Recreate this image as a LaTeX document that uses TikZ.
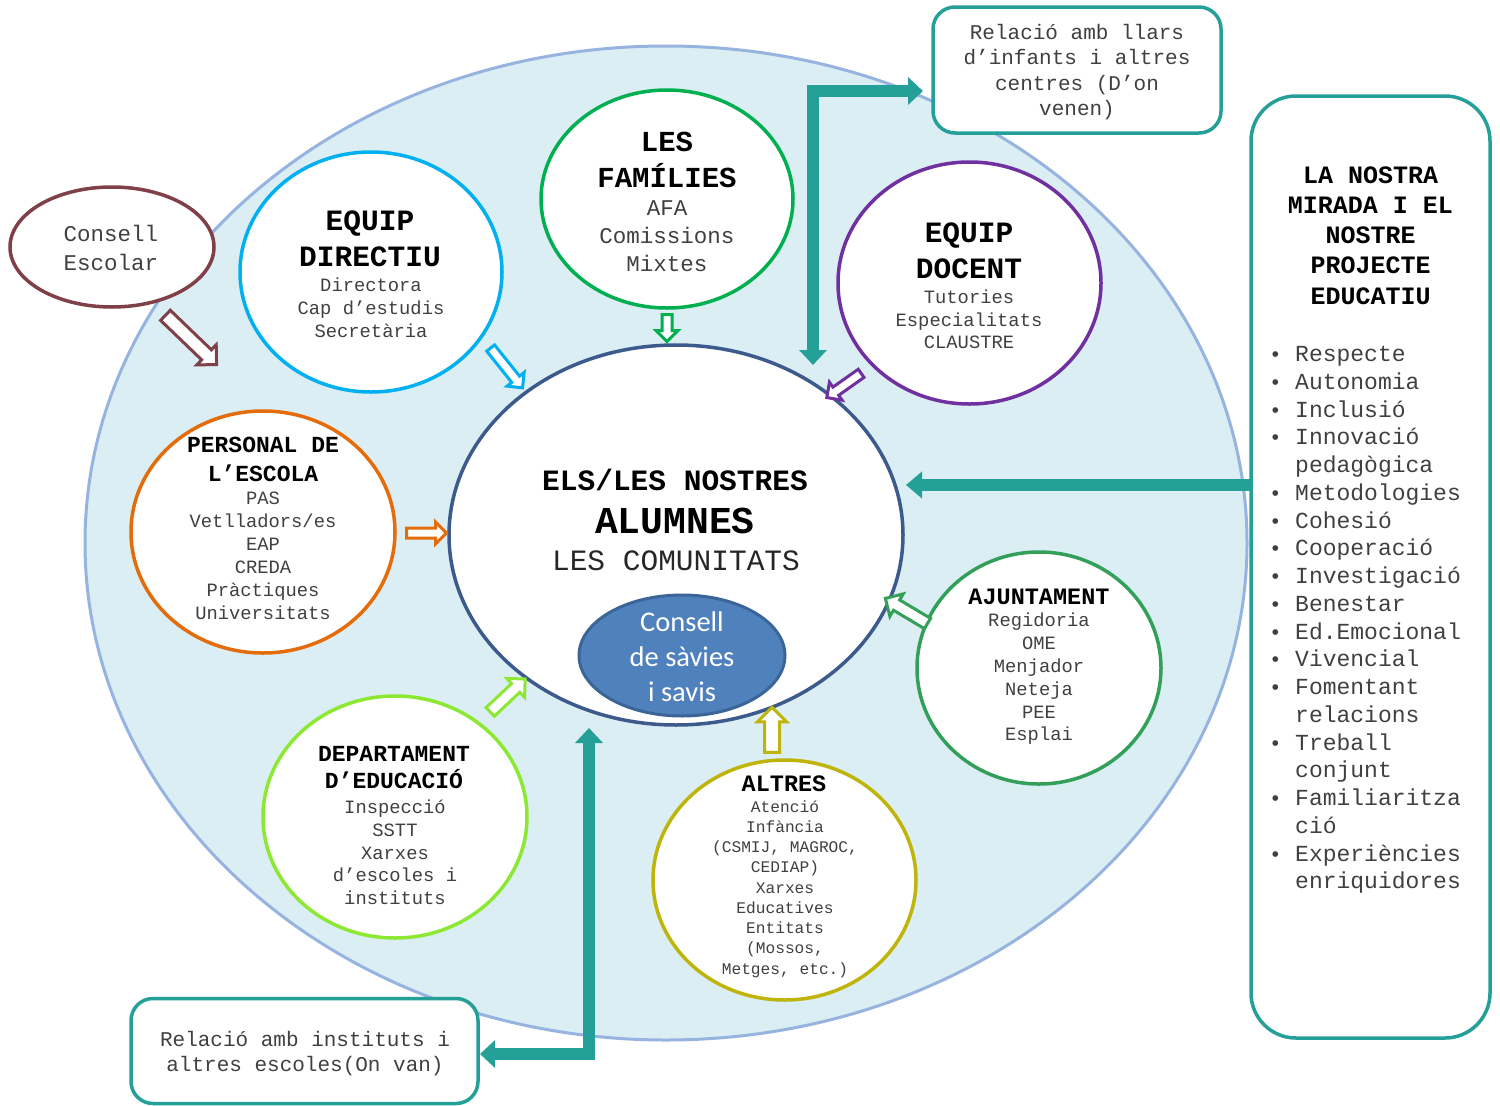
\documentclass[tikz,border=0pt]{standalone}
\usepackage{fontspec}
\usetikzlibrary{shapes.geometric,shapes.arrows,arrows.meta}
\newfontfamily\mono{Liberation Mono}
\newfontfamily\calib{Carlito}
\definecolor{bgblue}{RGB}{218,238,243}
\definecolor{ring}{RGB}{151,180,224}
\definecolor{tealc}{RGB}{36,160,152}
\definecolor{brownc}{RGB}{128,64,72}
\definecolor{cyanc}{RGB}{0,176,240}
\definecolor{greenc}{RGB}{0,176,80}
\definecolor{purplec}{RGB}{112,48,160}
\definecolor{orangec}{RGB}{228,108,10}
\definecolor{limec}{RGB}{140,232,50}
\definecolor{olivec}{RGB}{190,180,10}
\definecolor{ajgreen}{RGB}{51,160,90}
\definecolor{centerc}{RGB}{60,90,140}
\definecolor{saviesf}{RGB}{79,129,189}
\definecolor{saviesd}{RGB}{59,101,151}
\definecolor{txtgray}{RGB}{64,64,64}
\newcommand\fs[2]{\fontsize{#1}{#2}\selectfont}
\newcommand\bul{\makebox[26pt][l]{\fs{21}{27.74}•}}
\begin{document}
\begin{tikzpicture}[x=1pt,y=-1pt,
  grp/.style={ellipse,draw=#1,line width=3.5pt,fill=white,inner sep=0pt},
  ttl/.style={align=center,text=black,inner sep=0pt},
  itm/.style={align=center,text=txtgray,inner sep=0pt},
  harrow/.style 2 args={single arrow,draw=#1,fill=white,line width=3pt,inner sep=0pt,
    text width=0pt,text height=#2,text depth=#2,minimum width=0pt},
  tealarr/.style={draw=tealc,line width=12pt,line join=miter,
    {Triangle[width=27pt,length=15pt]}-{Triangle[width=27pt,length=15pt]}},
  tealone/.style={draw=tealc,line width=12pt,-{Triangle[width=26pt,length=16pt]}},
  rbox/.style={rectangle,draw=tealc,line width=3.5pt,fill=white,rounded corners=22pt,inner sep=0pt}
]
\useasboundingbox (0,0) rectangle (1500,1106);
\fill[white] (0,0) rectangle (1500,1106);

% big background ellipse
\node[ellipse,draw=ring,line width=3pt,fill=bgblue,minimum width=1162pt,minimum height=994pt,inner sep=0pt] (world) at (666,543) {};

% boxes
\node[rbox,minimum width=288pt,minimum height=126pt] (llars) at (1077,70) {};
\node[itm,font=\mono\fs{21}{25.5}] (llarst) at (1077,72) {Relació amb llars\\d’infants i altres\\centres (D’on\\venen)};
\node[rbox,minimum width=347pt,minimum height=105pt] (inst) at (304.5,1051) {};
\node[itm,font=\mono\fs{21}{25}] (instt) at (305,1053.5) {Relació amb instituts i\\altres escoles(On van)};

% right panel
\node[rectangle,draw=tealc,line width=3.5pt,fill=white,rounded corners=45pt,minimum width=239pt,minimum height=942pt] (panel) at (1370.5,567) {};
\node[ttl,font=\mono\bfseries\fs{25}{30.25}] (panelt) at (1370.5,235.5) {LA NOSTRA\\MIRADA I EL\\NOSTRE\\PROJECTE\\EDUCATIU};
\node[itm,align=left,anchor=west,font=\mono\fs{23}{27.74}] (panell) at (1269,620) {%
\bul Respecte\\
\bul Autonomia\\
\bul Inclusió\\
\bul Innovació\\
\hspace*{26pt}pedagògica\\
\bul Metodologies\\
\bul Cohesió\\
\bul Cooperació\\
\bul Investigació\\
\bul Benestar\\
\bul Ed.Emocional\\
\bul Vivencial\\
\bul Fomentant\\
\hspace*{26pt}relacions\\
\bul Treball\\
\hspace*{26pt}conjunt\\
\bul Familiaritza\\
\hspace*{26pt}ció\\
\bul Experiències\\
\hspace*{26pt}enriquidores};

% Consell escolar
\node[grp=brownc,minimum width=204pt,minimum height=120pt] (cescolar) at (112,247) {};
\node[itm,font=\mono\fs{22.5}{29}] (cescolart) at (111,247.5) {Consell\\Escolar};

% center
\node[grp=centerc,minimum width=454pt,minimum height=380pt] (alumnes) at (676,535) {};
\node[ttl,font=\mono\bfseries\fs{29.5}{34}] (alt1) at (675,480) {ELS/LES NOSTRES};
\node[ttl,font=\mono\bfseries\fs{38}{40}] (alt2) at (675,521) {ALUMNES};
\node[itm,text=black!85,font=\mono\fs{29.5}{34}] (alt3) at (676,561) {LES COMUNITATS};
\node[ellipse,draw=saviesd,line width=3pt,fill=saviesf,minimum width=206pt,minimum height=121pt,inner sep=0pt] (savies) at (682,655.5) {};
\node[align=center,text=white,inner sep=0pt,font=\calib\fs{28.5}{35}] (saviest) at (682,657) {Consell\\de sàvies\\i savis};

% groups
\node[grp=cyanc,minimum width=262pt,minimum height=240pt] (directiu) at (371,272) {};
\node[ttl,font=\mono\bfseries\fs{29.5}{36}] (directiut) at (370,239) {EQUIP\\DIRECTIU};
\node[itm,font=\mono\fs{18.8}{23}] (directiui) at (371,308) {Directora\\Cap d’estudis\\Secretària};

\node[grp=greenc,minimum width=252pt,minimum height=218pt] (families) at (667,199) {};
\node[ttl,font=\mono\bfseries\fs{29}{36}] (familiest) at (667,160) {LES\\FAMÍLIES};
\node[itm,font=\mono\fs{22.5}{28}] (familiesi) at (667,236) {AFA\\Comissions\\Mixtes};

\node[grp=purplec,minimum width=263pt,minimum height=242pt] (docent) at (969.5,283) {};
\node[ttl,font=\mono\bfseries\fs{29.5}{36}] (docentt) at (969,251) {EQUIP\\DOCENT};
\node[itm,font=\mono\fs{18.8}{22.5}] (docenti) at (969,319.5) {Tutories\\Especialitats\\CLAUSTRE};

\node[grp=orangec,minimum width=264pt,minimum height=242pt] (personal) at (263,532) {};
\node[ttl,font=\mono\bfseries\fs{23}{29}] (personalt) at (263,459.5) {PERSONAL DE\\L’ESCOLA};
\node[itm,font=\mono\fs{18.8}{23}] (personali) at (263,555.5) {PAS\\Vetlladors/es\\EAP\\CREDA\\Pràctiques\\Universitats};

\node[grp=limec,minimum width=264pt,minimum height=242pt] (depart) at (395,817) {};
\node[ttl,font=\mono\bfseries\fs{23}{27}] (departt) at (394,767.5) {DEPARTAMENT\\D’EDUCACIÓ};
\node[itm,font=\mono\fs{18.8}{22.75}] (departi) at (395,852.5) {Inspecció\\SSTT\\Xarxes\\d’escoles i\\instituts};

\node[grp=olivec,minimum width=263pt,minimum height=240pt] (altres) at (784.5,880) {};
\node[ttl,font=\mono\bfseries\fs{23.5}{27}] (altrest) at (784,784) {ALTRES};
\node[itm,font=\mono\fs{16.2}{20.25}] (altresi) at (785,889) {Atenció\\Infància\\(CSMIJ, MAGROC,\\CEDIAP)\\Xarxes\\Educatives\\Entitats\\(Mossos,\\Metges, etc.)};

\node[grp=ajgreen,minimum width=244pt,minimum height=232pt] (ajunt) at (1039,668) {};
\node[ttl,font=\mono\bfseries\fs{23.5}{27}] (ajuntt) at (1039,597) {AJUNTAMENT};
\node[itm,font=\mono\fs{18.8}{22.8}] (ajunti) at (1039,679) {Regidoria\\OME\\Menjador\\Neteja\\PEE\\Esplai};

% hollow block arrows
\node[harrow={brownc}{5.5pt},minimum height=71pt,single arrow head extend=7pt,rotate=-43.9] (a1) at (188.5,337.5) {};
\node[harrow={cyanc}{3.5pt},minimum height=51pt,single arrow head extend=6pt,rotate=-51.3] (a2) at (505,366) {};
\node[harrow={greenc}{3.5pt},minimum height=27pt,single arrow head extend=6pt,rotate=-90] (a3) at (667,325.5) {};
\node[harrow={purplec}{3.5pt},minimum height=42pt,single arrow head extend=6pt,rotate=-144.8] (a4) at (846,384) {};
\node[harrow={orangec}{3.5pt},minimum height=40pt,single arrow head extend=6pt,rotate=0] (a5) at (424,533) {};
\node[harrow={ajgreen}{4.5pt},minimum height=49pt,single arrow head extend=7pt,rotate=149.2] (a6) at (909,612.5) {};
\node[harrow={olivec}{6pt},minimum height=45pt,single arrow head extend=7pt,rotate=90] (a7) at (772,733.5) {};
\node[harrow={limec}{4.5pt},minimum height=48pt,single arrow head extend=7pt,rotate=43.3] (a8) at (505.5,697.5) {};

% teal arrows
\coordinate (t1) at (813,365);
\coordinate (t2) at (923,91);
\draw[tealarr] (t1) |- (t2);
\coordinate (h1) at (1251,485);
\coordinate (h2) at (906,485);
\draw[tealone] (h1) -- (h2);
\coordinate (b1) at (589,728);
\coordinate (b2) at (480,1054);
\draw[tealarr] (b1) |- (b2);
\end{tikzpicture}
\end{document}
